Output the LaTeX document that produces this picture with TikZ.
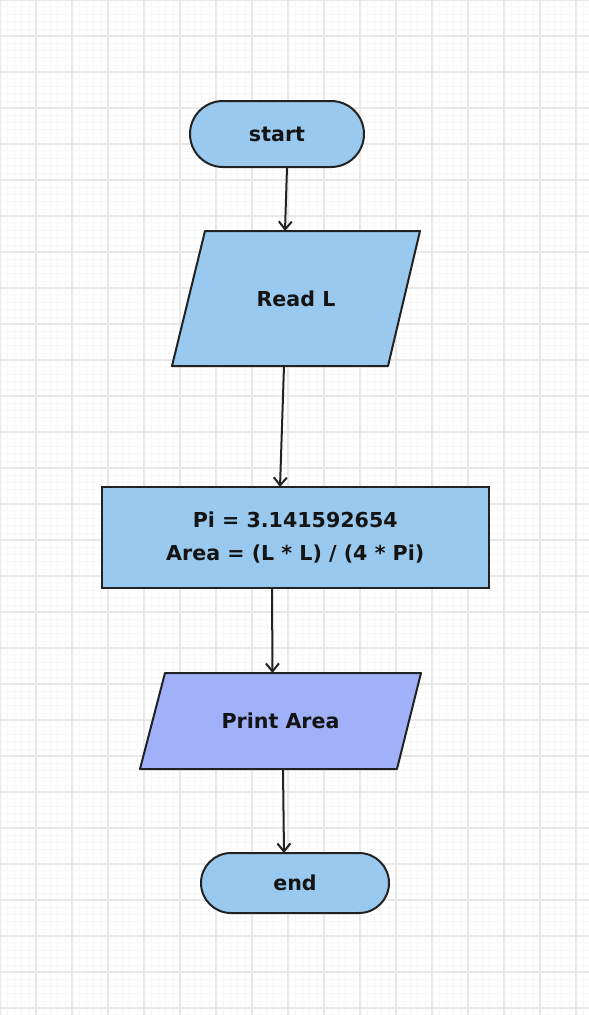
\documentclass[tikz,border=0pt]{standalone}
\usepackage{fontspec}
\setmainfont{DejaVu Sans}
\usetikzlibrary{arrows.meta,calc,backgrounds}
\definecolor{termfill}{HTML}{99C9EE}
\definecolor{outfill}{HTML}{A0B1F9}
\definecolor{edgecol}{HTML}{222222}
\definecolor{gridmajor}{HTML}{E8E8E8}
\definecolor{gridminor}{HTML}{F7F7F7}

\begin{document}
\begin{tikzpicture}[x=1pt,y=-1pt,
  every node/.style={outer sep=0pt},
  labelfont/.style={font=\fontsize{20.6}{33}\selectfont\bfseries, text=black!92},
  terminal/.style={draw=edgecol, line width=2pt, fill=termfill, rounded corners=#1, labelfont},
  procbox/.style={draw=edgecol, line width=2pt, fill=termfill, align=center, labelfont},
  iobox/.style={labelfont},
  ioshape/.style={draw=edgecol, line width=2pt, fill=#1, line join=round},
  flow/.style={draw=edgecol, line width=2pt, -{Straight Barb[length=8pt,width=13pt,line width=2pt]}},
]
\useasboundingbox (0,0) rectangle (589,1015);

% squared paper
\begin{scope}[on background layer]
  \fill[white] (0,0) rectangle (589,1015);
  \foreach \i in {0,...,141} {
    \draw[gridminor, line width=0.6pt] (\i*7.2,0) -- (\i*7.2,1015);
    \draw[gridminor, line width=0.6pt] (0,\i*7.2) -- (589,\i*7.2);
  }
  \foreach \i in {0,...,28} {
    \draw[gridmajor, line width=1.8pt] (\i*36,0) -- (\i*36,1015);
    \draw[gridmajor, line width=1.8pt] (0,\i*36) -- (589,\i*36);
  }
\end{scope}

% flowchart nodes
\node[terminal=33pt, minimum width=174pt, minimum height=66pt] (start) at (277,134) {start};
\node[iobox, minimum width=248pt, minimum height=135pt] (readL) at (296,298.5) {Read L};
\node[procbox, minimum width=387.5pt, minimum height=101pt] (calc) at (295.25,537.5)
  {Pi = 3.141592654\\Area = (L * L) / (4 * Pi)};
\node[iobox, minimum width=281pt, minimum height=96pt] (print) at (280.5,721) {Print Area};
\node[terminal=30pt, minimum width=188pt, minimum height=60pt] (stop) at (295,883) {end};

% input/output parallelograms
\begin{scope}[on background layer]
  \draw[ioshape=termfill] ($(readL.north west)+(33,0)$) -- (readL.north east)
    -- ($(readL.south east)+(-32,0)$) -- (readL.south west) -- cycle;
  \draw[ioshape=outfill] ($(print.north west)+(25,0)$) -- (print.north east)
    -- ($(print.south east)+(-24,0)$) -- (print.south west) -- cycle;
\end{scope}

% connectors
\draw[flow] ($(start.south)+(10,0)$) -- ($(readL.north)+(-11,0)$);
\draw[flow] ($(readL.south)+(-12,0)$) -- ($(calc.north)+(-15.25,0)$);
\draw[flow] ($(calc.south)+(-23.25,0)$) -- ($(print.north)+(-8,0)$);
\draw[flow] ($(print.south)+(2.5,0)$) -- ($(stop.north)+(-11,0)$);
\end{tikzpicture}
\end{document}
